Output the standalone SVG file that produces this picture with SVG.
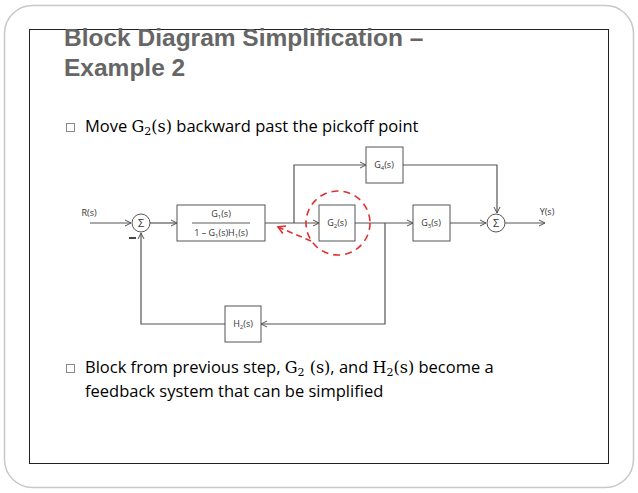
<svg xmlns="http://www.w3.org/2000/svg" width="638" height="493" viewBox="0 0 638 493">
<defs>
<style>
.b{fill:#fff;stroke:#555;stroke-width:1}
.l{fill:none;stroke:#555;stroke-width:1.2}
.t{font-family:"Open Sans","Liberation Sans",sans-serif;font-size:9px;fill:#333;text-anchor:middle}
.p{font-family:"Open Sans","Liberation Sans",sans-serif;font-size:16.5px;fill:#000}
.m{font-family:"DejaVu Serif","Liberation Serif",serif;font-size:16px}
.s{font-family:"DejaVu Serif","Liberation Serif",serif;font-size:11px}
.u{font-size:6px}
</style>
<marker id="a" markerWidth="8" markerHeight="8" refX="7" refY="4" orient="auto" markerUnits="userSpaceOnUse"><path d="M1,1 L7,4 L1,7" fill="none" stroke="#555" stroke-width="1"/></marker>
<marker id="r" markerWidth="10" markerHeight="10" refX="8" refY="5" orient="auto" markerUnits="userSpaceOnUse"><path d="M1,1 L8,5 L1,9" fill="none" stroke="#e03030" stroke-width="1.6"/></marker>
</defs>
<rect width="638" height="493" fill="#fff"/>
<rect x="4.5" y="5.5" width="629" height="482" rx="28" fill="none" stroke="#c8c8c8" stroke-width="1.5"/>
<rect x="29.5" y="29.5" width="579" height="434" fill="none" stroke="#222" stroke-width="1"/>
<text x="64" y="46" font-family="Liberation Sans,sans-serif" font-weight="bold" font-size="24.5" fill="#666">Block Diagram Simplification –</text>
<text x="64" y="76" font-family="Liberation Sans,sans-serif" font-weight="bold" font-size="24.5" fill="#666">Example 2</text>
<rect x="66.5" y="123.5" width="8" height="8" fill="none" stroke="#888"/>
<text class="p" x="85" y="132">Move <tspan class="m">G</tspan><tspan class="s" dy="3">2</tspan><tspan class="m" dy="-3">(s)</tspan> backward past the pickoff point</text>
<rect x="66.5" y="364.5" width="8" height="8" fill="none" stroke="#888"/>
<text class="p" x="85" y="373">Block from previous step, <tspan class="m">G</tspan><tspan class="s" dy="3">2</tspan><tspan class="m" dy="-3"> (s)</tspan>, and <tspan class="m">H</tspan><tspan class="s" dy="3">2</tspan><tspan class="m" dy="-3">(s)</tspan> become a</text>
<text class="p" x="85" y="397">feedback system that can be simplified</text>
<g id="connectors">
<path class="l" d="M90,223 H131" marker-end="url(#a)"/>
<path class="l" d="M150,223 H177" marker-end="url(#a)"/>
<path class="l" d="M265,223 H319" marker-end="url(#a)"/>
<path class="l" d="M294,223 V165 H366" marker-end="url(#a)"/>
<path class="l" d="M355,223 H413" marker-end="url(#a)"/>
<path class="l" d="M450,223 H486" marker-end="url(#a)"/>
<path class="l" d="M403,165 H497 V213" marker-end="url(#a)"/>
<path class="l" d="M505,223 H545" marker-end="url(#a)"/>
<path class="l" d="M385,223 V324 H261" marker-end="url(#a)"/>
<path class="l" d="M225,324 H141 V233" marker-end="url(#a)"/>
<path d="M129,238 H136" stroke="#333" stroke-width="1.8"/>
</g>
<g id="R"><text class="t" x="89" y="216">R(s)</text></g>
<g id="Y"><text class="t" x="547" y="215">Y(s)</text></g>
<g id="sum1"><circle class="b" cx="141" cy="223" r="9"/><text class="t" x="141" y="227" style="font-size:11px">Σ</text></g>
<g id="sum2"><circle class="b" cx="496" cy="223" r="9"/><text class="t" x="496" y="227" style="font-size:11px">Σ</text></g>
<g id="G1"><rect class="b" x="177" y="205" width="88" height="36"/><text class="t" x="221" y="217">G<tspan class="u" dy="2">1</tspan><tspan dy="-2">(s)</tspan></text><path d="M192,223 H250" stroke="#333" stroke-width="0.8"/><text class="t" x="221" y="236">1 – G<tspan class="u" dy="2">1</tspan><tspan dy="-2">(s)H</tspan><tspan class="u" dy="2">1</tspan><tspan dy="-2">(s)</tspan></text></g>
<g id="G2"><rect class="b" x="319" y="205" width="36" height="36"/><text class="t" x="337" y="226">G<tspan class="u" dy="2">2</tspan><tspan dy="-2">(s)</tspan></text></g>
<g id="G3"><rect class="b" x="413" y="205" width="37" height="36"/><text class="t" x="431" y="226">G<tspan class="u" dy="2">3</tspan><tspan dy="-2">(s)</tspan></text></g>
<g id="G4"><rect class="b" x="366" y="147" width="37" height="36"/><text class="t" x="384" y="168">G<tspan class="u" dy="2">4</tspan><tspan dy="-2">(s)</tspan></text></g>
<g id="H2"><rect class="b" x="225" y="306" width="36" height="36"/><text class="t" x="243" y="327">H<tspan class="u" dy="2">2</tspan><tspan dy="-2">(s)</tspan></text></g>
<g id="red"><circle cx="338" cy="223" r="32" fill="none" stroke="#e03030" stroke-width="1.6" stroke-dasharray="7,5"/><path d="M311,241 L278,227" fill="none" stroke="#e03030" stroke-width="1.6" stroke-dasharray="6,4" marker-end="url(#r)"/></g>
</svg>
